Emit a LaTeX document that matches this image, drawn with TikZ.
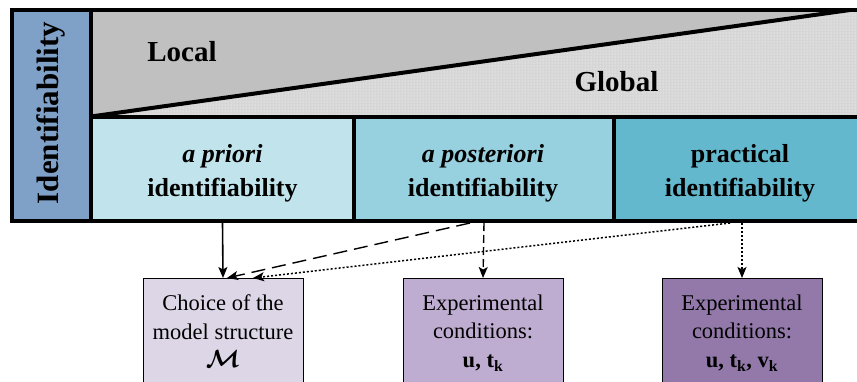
\documentclass[tikz,border=0pt]{standalone}
\usepackage{fontspec}
\setmainfont{Liberation Serif}
\usepackage{amsmath,bm}
\usetikzlibrary{arrows.meta,patterns}
\definecolor{idblue}{RGB}{128,161,199}
\definecolor{topgray}{RGB}{192,192,192}
\definecolor{dotbg}{RGB}{214,214,214}
\definecolor{cA}{RGB}{193,228,236}
\definecolor{cB}{RGB}{151,208,222}
\definecolor{cC}{RGB}{99,184,205}
\definecolor{bA}{RGB}{221,214,230}
\definecolor{bB}{RGB}{190,173,208}
\definecolor{bC}{RGB}{146,121,169}
\tikzset{
  thick frame/.style={draw=black, line width=4pt},
  topbox/.style={thick frame, minimum height=104.5pt, inner sep=0pt},
  toptxt/.style={align=center, font=\fontsize{26}{33.5}\selectfont\bfseries, inner sep=0pt},
  bigtxt/.style={font=\fontsize{29}{34}\selectfont\bfseries, inner sep=0pt},
  lowbox/.style={draw=black, line width=0.9pt, minimum width=160pt, minimum height=140pt, anchor=north, inner sep=0pt},
  lowtxt/.style={align=center, font=\fontsize{22.5}{28.5}\selectfont, inner sep=0pt, anchor=north},
  tip/.style={-{Stealth[length=11pt,width=9pt,inset=2.5pt]}},
  solidarrow/.style={tip, line width=1.6pt},
  dasharrow/.style={tip, line width=1.4pt, dash pattern=on 14pt off 7pt},
  vdasharrow/.style={tip, line width=1.4pt, dash pattern=on 8pt off 4pt},
  dotarrow/.style={tip, line width=1.5pt, dash pattern=on 2pt off 2pt},
}
\begin{document}
\begin{tikzpicture}[x=1pt,y=-1pt]
\useasboundingbox (0,0) rectangle (857,381);
\clip (0,0) rectangle (857,381);
% triangle regions
\fill[topgray] (91,10) -- (850,10) -- (91,116.5) -- cycle;
\fill[dotbg] (91,116.5) -- (850,10) -- (890,10) -- (890,116.5) -- cycle;
\fill[pattern=dots, pattern color=white] (91,116.5) -- (850,10) -- (890,10) -- (890,116.5) -- cycle;
\draw[line width=4pt] (91,116.5) -- (850,10);
% identifiability column
\node[thick frame, fill=idblue, minimum width=79pt, minimum height=211pt, inner sep=0pt] (idcol) at (51.5,115.5) {};
\node[rotate=90, font=\fontsize{31}{34}\selectfont\bfseries, inner sep=0pt] (idtxt) at (51,113) {Identifiability};
% outer frame top
\draw[line width=4pt] (12,10) -- (890,10);
% top row boxes
\node[topbox, fill=cA, minimum width=263pt] (apriori) at (222.5,168.75) {};
\node[topbox, fill=cB, minimum width=260pt] (aposteriori) at (484,168.75) {};
\node[topbox, fill=cC, minimum width=276pt] (practical) at (752,168.75) {};
\node[toptxt] (aprioritxt) at (222.5,173.5) {\textit{a priori}\\identifiability};
\node[toptxt] (aposterioritxt) at (483,173.5) {\textit{a posteriori}\\identifiability};
\node[toptxt] (practicaltxt) at (740,173.5) {practical\\identifiability};
% Local / Global
\node[bigtxt] (local) at (182,52) {Local};
\node[bigtxt] (global) at (616.5,82) {Global};
% lower boxes
\node[lowbox, fill=bA] (choice) at (223,278) {};
\node[lowbox, fill=bB] (expA) at (483,278) {};
\node[lowbox, fill=bC] (expB) at (742,278) {};
\node[lowtxt] (choicetxt) at (223,294.5) {Choice of the\\model structure\\{\fontsize{26}{28.5}\selectfont$\bm{\mathcal{M}}$}};
\node[lowtxt] (expAtxt) at (483,294.5) {Experimental\\conditions:\\\textbf{u, t\textsubscript{k}}};
\node[lowtxt] (expBtxt) at (742,294.5) {Experimental\\conditions:\\\textbf{u, t\textsubscript{k}, v\textsubscript{k}}};
% connector end points
\coordinate (postd) at ([xshift=-14pt]aposteriori.south);
\coordinate (pracd) at ([xshift=-22pt]practical.south);
\coordinate (pracv) at ([xshift=-10pt]practical.south);
\coordinate (choiceA) at ([xshift=4pt]choice.north);
\coordinate (choiceB) at ([xshift=30pt]choice.north);
% connectors
\draw[solidarrow] (apriori.south) -- (choice.north);
\draw[dasharrow] (postd) -- (choiceA);
\draw[dotarrow] (pracd) -- (choiceB);
\draw[vdasharrow] (aposteriori.south) -- (expA.north);
\draw[dotarrow] (pracv) -- (expB.north);
\end{tikzpicture}
\end{document}
